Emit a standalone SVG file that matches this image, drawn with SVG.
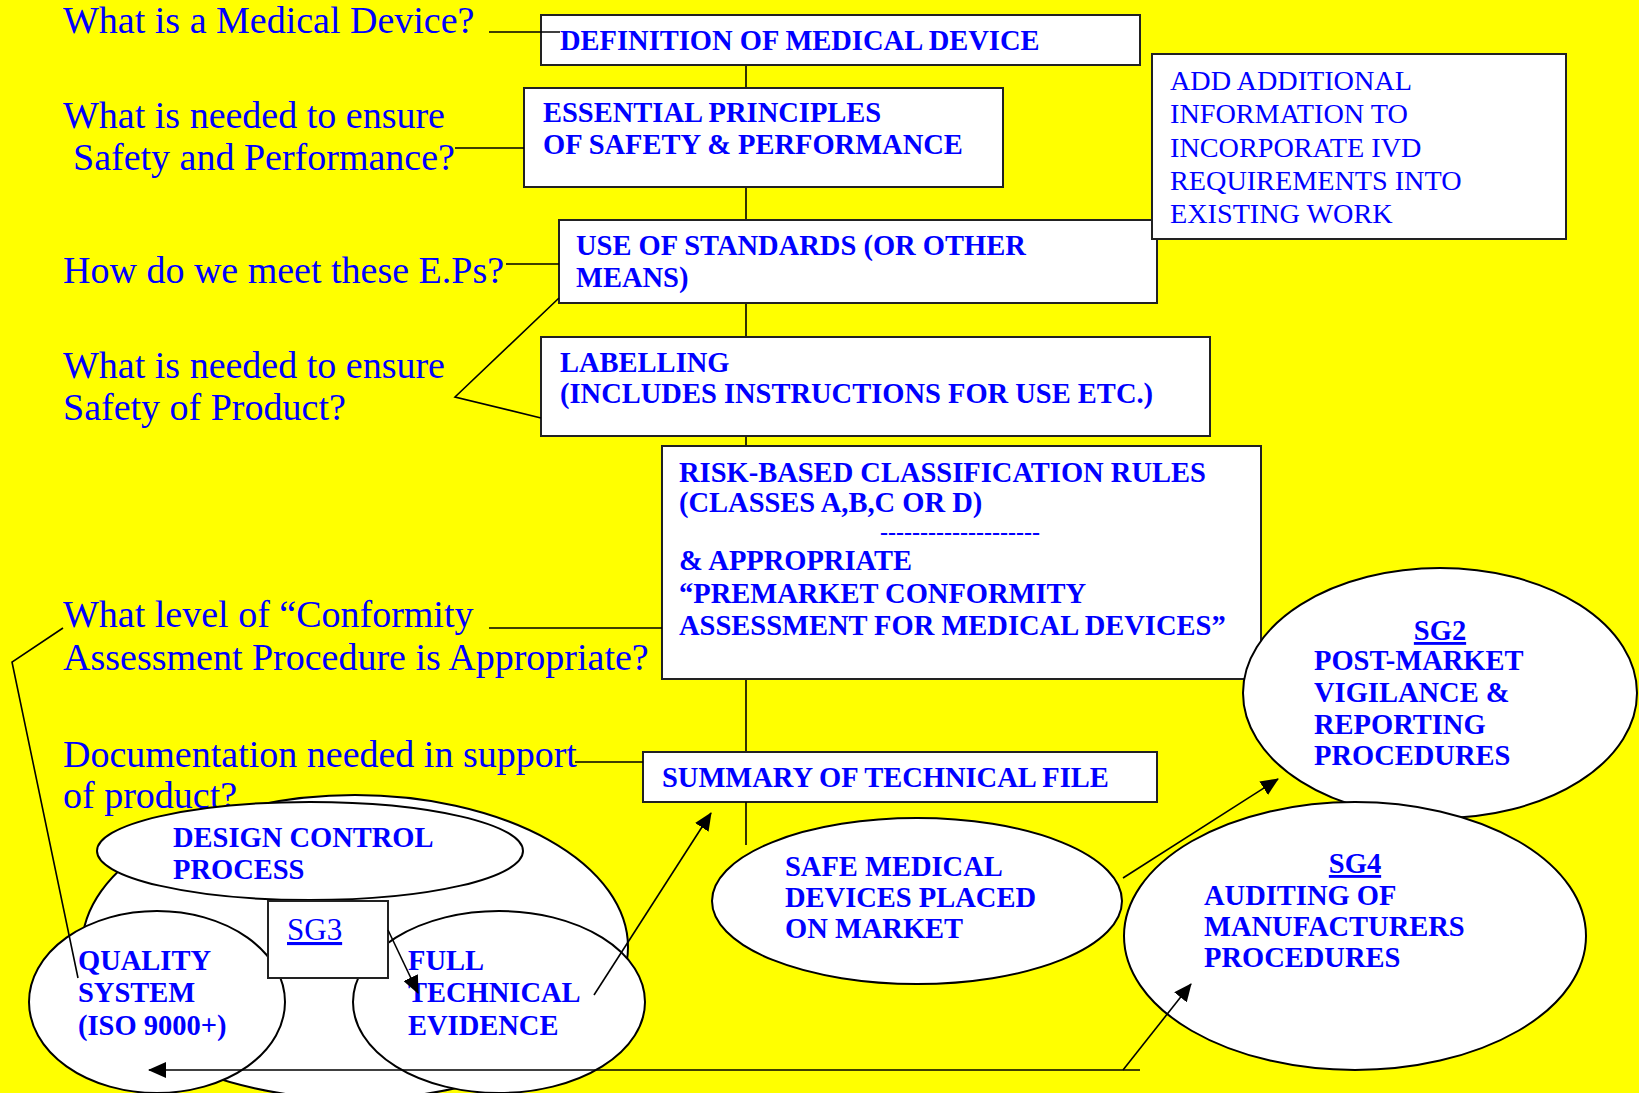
<svg xmlns="http://www.w3.org/2000/svg" width="1639" height="1093" viewBox="0 0 1639 1093">
<defs>
<style>
.q{font-family:"Liberation Serif","Times New Roman",serif;font-size:38px;fill:#0000FF}
.b{font-family:"Liberation Serif","Times New Roman",serif;font-size:28.5px;font-weight:bold;fill:#0000FF}
.n{font-family:"Liberation Serif","Times New Roman",serif;font-size:28.2px;fill:#0000FF}
.box{fill:#FFFFFF;stroke:#222;stroke-width:2}
.shape{fill:#FFFFFF;stroke:#000;stroke-width:2}
.ln{fill:none;stroke:#000;stroke-width:1.6}
.u{text-decoration:underline}
</style>
<marker id="arr" markerWidth="18" markerHeight="16" refX="17" refY="8" orient="auto" markerUnits="userSpaceOnUse">
<path d="M0,0 L18,8 L0,16 Z" fill="#000"/>
</marker>
</defs>
<rect x="0" y="0" width="1639" height="1093" fill="#FFFF00"/>

<g id="questions">
<text class="q" x="63" y="33">What is a Medical Device?</text>
<text class="q" x="63" y="128">What is needed to ensure</text>
<text class="q" x="73" y="170">Safety and Performance?</text>
<text class="q" x="63" y="283">How do we meet these E.Ps?</text>
<text class="q" x="63" y="378">What is needed to ensure</text>
<text class="q" x="63" y="420">Safety of Product?</text>
<text class="q" x="63" y="627">What level of “Conformity</text>
<text class="q" x="63" y="670">Assessment Procedure is Appropriate?</text>
<text class="q" x="63" y="767">Documentation needed in support</text>
<text class="q" x="63" y="808">of product?</text>
</g>

<g id="connectors-back">
<line class="ln" x1="746" y1="53" x2="746" y2="88"/>
<line class="ln" x1="746" y1="187" x2="746" y2="220"/>
<line class="ln" x1="746" y1="303" x2="746" y2="337"/>
<line class="ln" x1="746" y1="436" x2="746" y2="446"/>
<line class="ln" x1="746" y1="679" x2="746" y2="752"/>
</g>

<g id="definition">
<rect class="box" x="541" y="15" width="599" height="50"/>
<text class="b" x="560" y="50">DEFINITION OF MEDICAL DEVICE</text>
</g>

<g id="essential">
<rect class="box" x="524" y="88" width="479" height="99"/>
<text class="b" x="543" y="122">ESSENTIAL PRINCIPLES</text>
<text class="b" x="543" y="154">OF SAFETY &amp; PERFORMANCE</text>
</g>

<g id="standards">
<rect class="box" x="559" y="220" width="598" height="83"/>
<text class="b" x="576" y="255">USE OF STANDARDS (OR OTHER</text>
<text class="b" x="576" y="287">MEANS)</text>
</g>

<g id="ivd">
<rect class="box" x="1152" y="54" width="414" height="185"/>
<text class="n" x="1170" y="90">ADD ADDITIONAL</text>
<text class="n" x="1170" y="123">INFORMATION TO</text>
<text class="n" x="1170" y="157">INCORPORATE IVD</text>
<text class="n" x="1170" y="190">REQUIREMENTS INTO</text>
<text class="n" x="1170" y="223">EXISTING WORK</text>
</g>

<g id="labelling">
<rect class="box" x="541" y="337" width="669" height="99"/>
<text class="b" x="560" y="372">LABELLING</text>
<text class="b" x="560" y="403">(INCLUDES INSTRUCTIONS FOR USE ETC.)</text>
</g>

<g id="risk">
<rect class="box" x="662" y="446" width="599" height="233"/>
<text class="b" x="679" y="482">RISK-BASED CLASSIFICATION RULES</text>
<text class="b" x="679" y="512">(CLASSES A,B,C OR D)</text>
<text class="b" x="960" y="540" text-anchor="middle" style="font-size:24px">--------------------</text>
<text class="b" x="679" y="570">&amp; APPROPRIATE</text>
<text class="b" x="679" y="603">“PREMARKET CONFORMITY</text>
<text class="b" x="679" y="635">ASSESSMENT FOR MEDICAL DEVICES”</text>
</g>

<g id="summary">
<rect class="box" x="643" y="752" width="514" height="50"/>
<text class="b" x="662" y="787">SUMMARY OF TECHNICAL FILE</text>
</g>

<g id="sg2">
<ellipse class="shape" cx="1440" cy="693" rx="197" ry="125"/>
<text class="b u" x="1440" y="640" text-anchor="middle">SG2</text>
<text class="b" x="1314" y="670">POST-MARKET</text>
<text class="b" x="1314" y="702">VIGILANCE &amp;</text>
<text class="b" x="1314" y="734">REPORTING</text>
<text class="b" x="1314" y="765">PROCEDURES</text>
</g>

<g id="sg4">
<ellipse class="shape" cx="1355" cy="936" rx="231" ry="134"/>
<text class="b u" x="1355" y="873" text-anchor="middle">SG4</text>
<text class="b" x="1204" y="905">AUDITING OF</text>
<text class="b" x="1204" y="936">MANUFACTURERS</text>
<text class="b" x="1204" y="967">PROCEDURES</text>
</g>

<g id="safe">
<ellipse class="shape" cx="917" cy="901" rx="205" ry="83"/>
<text class="b" x="785" y="876">SAFE MEDICAL</text>
<text class="b" x="785" y="907">DEVICES PLACED</text>
<text class="b" x="785" y="938">ON MARKET</text>
</g>

<g id="sg3-group">
<ellipse class="shape" cx="355" cy="947" rx="273" ry="152"/>
</g>

<g id="design">
<ellipse class="shape" cx="310" cy="851" rx="213" ry="49"/>
<text class="b" x="173" y="847">DESIGN CONTROL</text>
<text class="b" x="173" y="879">PROCESS</text>
</g>

<g id="quality">
<ellipse class="shape" cx="157" cy="1002" rx="128" ry="91"/>
<text class="b" x="78" y="970">QUALITY</text>
<text class="b" x="78" y="1002">SYSTEM</text>
<text class="b" x="78" y="1035">(ISO 9000+)</text>
</g>

<g id="fulltech">
<ellipse class="shape" cx="499" cy="1002" rx="146" ry="91"/>
<text class="b" x="408" y="970">FULL</text>
<text class="b" x="408" y="1002">TECHNICAL</text>
<text class="b" x="408" y="1035">EVIDENCE</text>
</g>

<g id="sg3">
<rect class="box" x="268" y="901" width="120" height="77"/>
<text class="n u" x="287" y="940" style="font-size:31px">SG3</text>
</g>

<g id="connectors">
<line class="ln" x1="489" y1="32" x2="560" y2="32"/>
<line class="ln" x1="455" y1="148" x2="524" y2="148"/>
<line class="ln" x1="506" y1="264" x2="559" y2="264"/>
<polyline class="ln" points="559,298 455,397 541,418"/>
<line class="ln" x1="489" y1="628" x2="662" y2="628"/>
<line class="ln" x1="575" y1="762" x2="643" y2="762"/>
<line class="ln" x1="746" y1="802" x2="746" y2="845"/>
<polyline class="ln" points="63,628 12,662 78,978"/>
<line class="ln" x1="1123" y1="878" x2="1278" y2="779" marker-end="url(#arr)"/>
<line class="ln" x1="1140" y1="1070" x2="149" y2="1070" marker-end="url(#arr)"/>
<line class="ln" x1="1123" y1="1070" x2="1191" y2="984" marker-end="url(#arr)"/>
<line class="ln" x1="594" y1="995" x2="711" y2="813" marker-end="url(#arr)"/>
<line class="ln" x1="388" y1="930" x2="418" y2="993" marker-end="url(#arr)"/>
</g>
</svg>
